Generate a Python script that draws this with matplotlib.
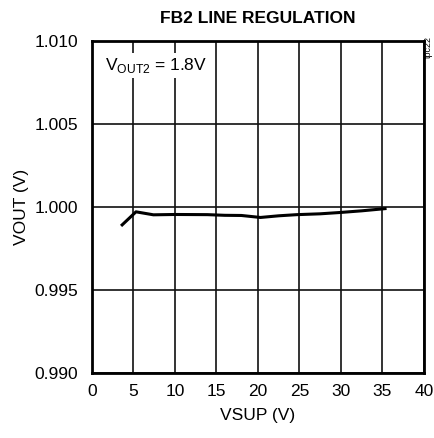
import numpy as np
import matplotlib
matplotlib.use("Agg")
import matplotlib.pyplot as plt

plt.rcParams['font.family'] = ['Liberation Sans', 'DejaVu Sans']

# supply voltage (V) and output (V)
vsup = [3.5, 5.3, 7.4, 10.0, 13.9, 16.0, 18.0, 20.3, 22.5, 24.7, 27.5, 29.9, 32.5, 35.5]
vout = [0.99887, 0.99972, 0.99954, 0.99956, 0.99955, 0.99951, 0.99950, 0.99938,
        0.99948, 0.99955, 0.99960, 0.99968, 0.99978, 0.99992]

xticks = [0, 5, 10, 15, 20, 25, 30, 35, 40]
yticks = [0.990, 0.995, 1.000, 1.005, 1.010]

fig = plt.figure(figsize=(4.35, 4.38), dpi=100)
ax = fig.add_axes([0.2115, 0.148, 0.763, 0.758])

ax.plot(vsup, vout, color='black', lw=2.2, solid_capstyle='butt')

ax.set_xlim(0, 40)
ax.set_ylim(0.990, 1.010)
ax.set_xticks(xticks)
ax.set_yticks(yticks)
ax.set_yticklabels([f"{v:.3f}" for v in yticks])
ax.grid(True, color='#111111', lw=1.2)
ax.tick_params(length=0, labelsize=12.5)
ax.tick_params(axis='y', pad=10)
ax.tick_params(axis='x', pad=8)
for s in ax.spines.values():
    s.set_linewidth(2)

ax.set_xlabel('VSUP (V)', fontsize=12.5, labelpad=6)
ax.set_ylabel('VOUT (V)', fontsize=12.5, labelpad=4)
ax.set_title('FB2 LINE REGULATION', fontsize=12.5, fontweight='bold', pad=13)

ax.text(0.04, 0.955, r'V$_{\mathregular{OUT2}}$ = 1.8V', transform=ax.transAxes,
        fontsize=12.5, va='top', ha='left',
        bbox=dict(facecolor='white', edgecolor='none', pad=2))
fig.text(0.986, 0.918, 'tpc22', rotation=90, fontsize=6.5, ha='center', va='top')

fig.savefig('out.png', dpi=100)
